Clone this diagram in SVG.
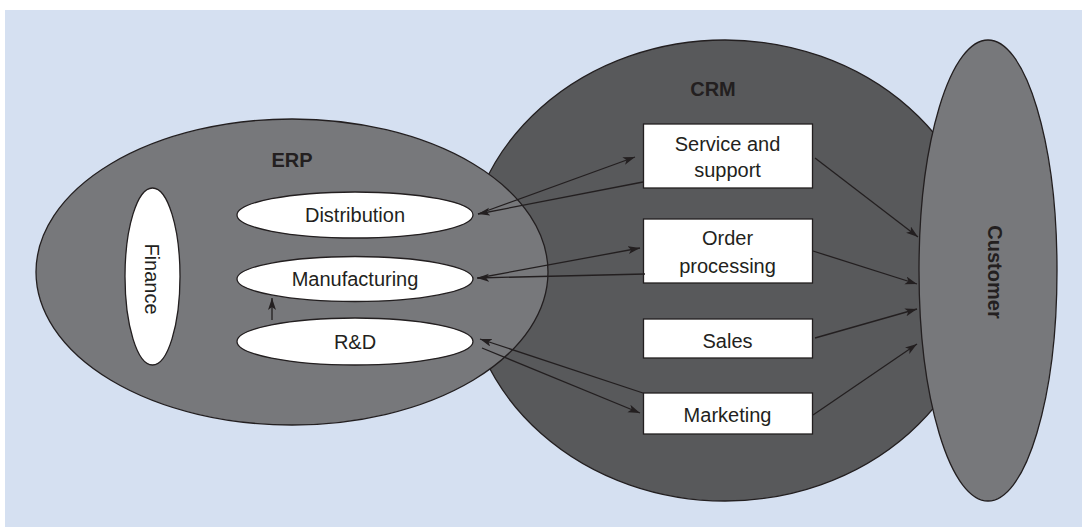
<svg xmlns="http://www.w3.org/2000/svg" width="1082" height="527" viewBox="0 0 1082 527">
<defs>
<style>
.bg{fill:#d5e0f1;}
.big{stroke:#231f20;stroke-width:1.3;}
.erp{fill:#77787b;}
.crm{fill:#58595b;}
.node{fill:#ffffff;stroke:#231f20;stroke-width:1.3;}
.lbl{font-family:"Liberation Sans",Arial,sans-serif;font-size:20px;fill:#231f20;text-anchor:middle;}
.bold{font-weight:bold;}
.con{stroke:#231f20;stroke-width:1.3;fill:none;marker-end:url(#ah);}
</style>
<marker id="ah" markerUnits="userSpaceOnUse" markerWidth="14" markerHeight="10" refX="12" refY="4" orient="auto">
<path d="M0,0 L12,4 L0,8 L3,4 Z" fill="#231f20"/>
</marker>
</defs>
<rect class="bg" x="5" y="10" width="1077" height="517"/>
<g id="crm">
<ellipse class="big crm" cx="725" cy="270.5" rx="260" ry="230.5"/>
<text class="lbl bold" x="713" y="96">CRM</text>
</g>
<g id="erp">
<ellipse class="big erp" cx="292" cy="272" rx="256" ry="153"/>
<text class="lbl bold" x="292" y="166.5">ERP</text>
</g>
<g id="customer">
<ellipse class="big erp" cx="988" cy="270.5" rx="69" ry="230.5"/>
<text class="lbl bold" transform="translate(988,272) rotate(90)" x="0" y="0">Customer</text>
</g>
<g id="finance">
<ellipse class="node" cx="152.5" cy="276.5" rx="27.5" ry="88.5"/>
<text class="lbl" transform="translate(145,279) rotate(90)" x="0" y="0">Finance</text>
</g>
<g id="distribution">
<ellipse class="node" cx="355" cy="215" rx="118" ry="23"/>
<text class="lbl" x="355" y="222">Distribution</text>
</g>
<g id="manufacturing">
<ellipse class="node" cx="355" cy="279" rx="118" ry="22.5"/>
<text class="lbl" x="355" y="286">Manufacturing</text>
</g>
<g id="rnd">
<ellipse class="node" cx="355" cy="341.5" rx="118" ry="23.5"/>
<text class="lbl" x="355" y="348.5">R&amp;D</text>
</g>
<g id="service">
<rect class="node" x="643.5" y="124" width="169" height="64"/>
<text class="lbl" x="727.5" y="150.5">Service and</text>
<text class="lbl" x="727.5" y="176.5">support</text>
</g>
<g id="order">
<rect class="node" x="643.5" y="219" width="169" height="64"/>
<text class="lbl" x="727.5" y="245">Order</text>
<text class="lbl" x="727.5" y="272.5">processing</text>
</g>
<g id="sales">
<rect class="node" x="643.5" y="319" width="169" height="39"/>
<text class="lbl" x="727.5" y="348">Sales</text>
</g>
<g id="marketing">
<rect class="node" x="643.5" y="393" width="169" height="41"/>
<text class="lbl" x="727.5" y="421.5">Marketing</text>
</g>
<g id="connectors">
<path class="con" d="M478,214 L635,157"/>
<path class="con" d="M643,182 L478,214"/>
<path class="con" d="M478,278 L640,248"/>
<path class="con" d="M645,274 L477,278"/>
<path class="con" d="M643,393 L480,339"/>
<path class="con" d="M482,348 L640,413"/>
<path class="con" d="M815,158 L918,237"/>
<path class="con" d="M813,251 L917,284"/>
<path class="con" d="M815,338 L917,309"/>
<path class="con" d="M813,415 L917,344"/>
<path class="con" d="M272,320 L272,298"/>
</g>
</svg>
